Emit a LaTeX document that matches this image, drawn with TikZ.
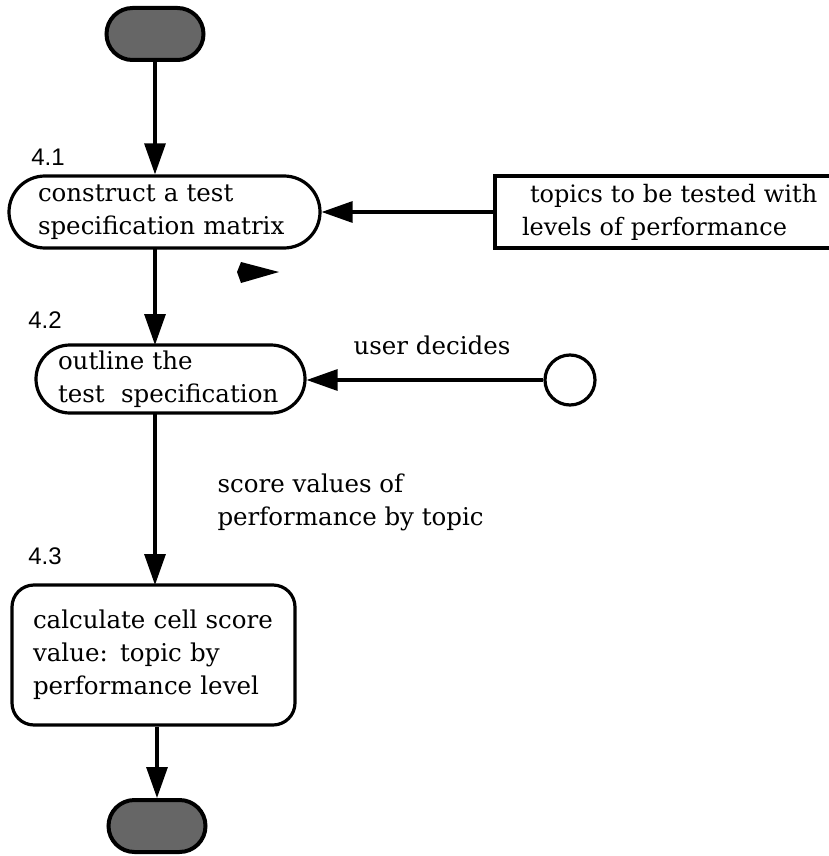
\documentclass[tikz,border=0pt]{standalone}
\usepackage{fontspec}
\setmainfont{DejaVu Serif}
\newfontfamily\numfont{Liberation Sans}
\usetikzlibrary{arrows.meta}
\begin{document}
\begin{tikzpicture}[x=1pt,y=-1pt,
  every node/.style={font=\fontsize{24.5}{33}\selectfont},
  flow/.style={line width=3.2pt,-{Triangle[length=31pt,width=21pt]}},
  proc/.style={draw,line width=3.2pt,align=left,inner sep=0pt},
  term/.style={draw,line width=4pt,fill=black!60,rounded corners=26pt,
    minimum width=97pt,minimum height=52pt,inner sep=0pt},
  num/.style={font=\numfont\fontsize{24}{28}\selectfont,inner sep=0pt}]
\useasboundingbox (0,0) rectangle (829,856);

% terminals
\node[term] (start) at (155,34) {};
\node[term] (stop) at (157,826) {};

% process steps
\node[proc,rounded corners=36pt,minimum width=311pt,minimum height=72pt,text width=253pt]
  (s41) at (164.5,212) {construct a test\\specification matrix};
\node[proc,rounded corners=34pt,minimum width=269pt,minimum height=68pt,text width=225pt]
  (s42) at (170.5,379) {outline the\\test\ \ specification};
\node[proc,rounded corners=22pt,minimum width=283pt,minimum height=140pt,text width=241pt]
  (s43) at (153.5,655) {calculate cell score\\value: topic by\\performance level};

% external source (runs off the right edge) and decision point
\node[proc,minimum width=346pt,minimum height=72pt,text width=320pt,
      font=\fontsize{24}{33}\selectfont]
  (topics) at (668,212) {\mbox{\hspace{22pt}topics to be tested with}\\\mbox{\hspace{14pt}levels of performance}};
\node[draw,line width=3.2pt,circle,minimum size=50pt,inner sep=0pt] (user) at (570,380) {};

% step numbers
\node[num] (n41) at (48,157) {4.1};
\node[num] (n42) at (45,320) {4.2};
\node[num] (n43) at (45,556) {4.3};

% flows
\draw[flow] (start.south) -- (start.south |- s41.north);
\draw[flow] (155,248) -- (155,345);
\draw[flow] (155,413) -- (155,585);
\draw[flow] (stop.north |- s43.south) -- (stop.north);
\draw[flow] (topics.west) -- (s41.east);
\draw[flow] (user.west) -- (s42.east |- user.west);

% loose arrowhead below step 4.1
\fill (237,272) -- (241,262) -- (279,272) -- (241,283) -- cycle;

% flow labels
\node[anchor=south] (ud) at (432,358) {user decides};
\node[anchor=north west,align=left] (sv) at (214,470) {score values of\\performance by topic};
\end{tikzpicture}
\end{document}
